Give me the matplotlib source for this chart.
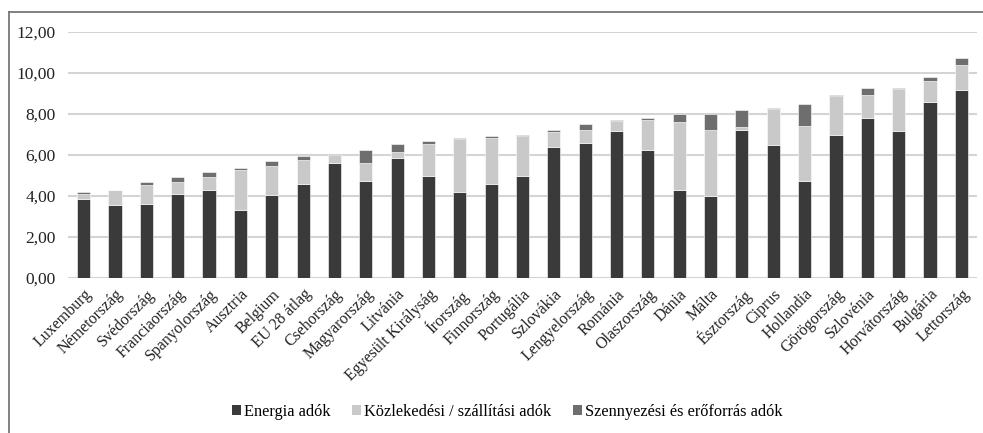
import matplotlib
matplotlib.use("Agg")
import matplotlib.pyplot as plt
from matplotlib.lines import Line2D
from matplotlib.patches import Patch
from matplotlib.ticker import FuncFormatter, MultipleLocator
import numpy as np

plt.rcParams["font.family"] = ["Liberation Serif", "DejaVu Serif"]

countries = [
    "Luxemburg", "Németország", "Svédország", "Franciaország", "Spanyolország",
    "Ausztria", "Belgium", "EU 28 átlag", "Csehország", "Magyarország",
    "Litvánia", "Egyesült Királyság", "Írország", "Finnország", "Portugália",
    "Szlovákia", "Lengyelország", "Románia", "Olaszország", "Dánia",
    "Málta", "Észtország", "Ciprus", "Hollandia", "Görögország",
    "Szlovénia", "Horvátország", "Bulgária", "Lettország",
]
energia = [3.87, 3.54, 3.59, 4.11, 4.29, 3.32, 4.05, 4.59, 5.61, 4.71,
           5.87, 4.99, 4.20, 4.57, 4.99, 6.39, 6.57, 7.17, 6.24, 4.27,
           3.98, 7.22, 6.47, 4.75, 6.96, 7.80, 7.19, 8.59, 9.17]
kozlekedesi = [0.25, 0.73, 0.96, 0.55, 0.64, 1.95, 1.43, 1.15, 0.40, 0.90,
               0.29, 1.55, 2.58, 2.26, 1.92, 0.75, 0.66, 0.49, 1.45, 3.34,
               3.24, 0.15, 1.75, 2.66, 1.90, 1.14, 2.04, 1.02, 1.23]
szennyezesi = [0.08, 0.02, 0.11, 0.25, 0.26, 0.10, 0.21, 0.21, 0.02, 0.63,
               0.38, 0.12, 0.05, 0.10, 0.05, 0.09, 0.28, 0.05, 0.10, 0.37,
               0.76, 0.84, 0.05, 1.08, 0.05, 0.34, 0.05, 0.18, 0.35]
series_names = ["Energia adók", "Közlekedési / szállítási adók",
                "Szennyezési és erőforrás adók"]

DARK = "#3a3a3a"
LIGHT = "#c9c9c9"
MID = "#6e6e6e"
GRID = "#d4d4d4"

W, H = 983, 433
fig = plt.figure(figsize=(W / 100, H / 100), dpi=100)
ax = fig.add_axes([68 / W, (H - 278) / H, (977 - 68) / W, (278 - 32) / H])

x = np.arange(len(countries))
e = np.array(energia)
k = np.array(kozlekedesi)
s = np.array(szennyezesi)
bw = 0.42
ax.bar(x, e, bw, color=DARK, edgecolor="white", linewidth=0.4, zorder=3)
ax.bar(x, k, bw, bottom=e, color=LIGHT, edgecolor="white", linewidth=0.4, zorder=3)
ax.bar(x, s, bw, bottom=e + k, color=MID, edgecolor="white", linewidth=0.4, zorder=3)

ax.set_xlim(-0.5, len(countries) - 0.5)
ax.set_ylim(0, 12)
ax.yaxis.set_major_locator(MultipleLocator(2))
ax.yaxis.set_major_formatter(FuncFormatter(lambda v, _: f"{v:.2f}".replace(".", ",")))
ax.grid(axis="y", color=GRID, linewidth=1.5, zorder=0)
ax.set_axisbelow(True)
for sp in ax.spines.values():
    sp.set_visible(False)
ax.tick_params(axis="both", length=0, colors="#222222")
ax.tick_params(axis="y", pad=9, labelsize=12.5)
ax.set_xticks(x)
ax.set_xticklabels(countries, rotation=45, ha="right", rotation_mode="anchor",
                   fontsize=11.5)
ax.tick_params(axis="x", pad=6)

handles = [Patch(facecolor=c, edgecolor="none") for c in (DARK, LIGHT, MID)]
fig.legend(handles, series_names, loc="center", bbox_to_anchor=(0.516, 0.048),
           ncol=3, frameon=False, fontsize=11.8, handlelength=0.55,
           handleheight=0.55, handletextpad=0.2, columnspacing=1.3)

# outer frame: left and top edges only
fig.add_artist(Line2D([9 / W, 9 / W], [0, 1 - 12 / H], transform=fig.transFigure,
                      color="#777777", linewidth=1.3))
fig.add_artist(Line2D([9 / W, 1], [1 - 12 / H, 1 - 12 / H], transform=fig.transFigure,
                      color="#777777", linewidth=1.3))

fig.savefig("out.png", dpi=100, facecolor="white")
